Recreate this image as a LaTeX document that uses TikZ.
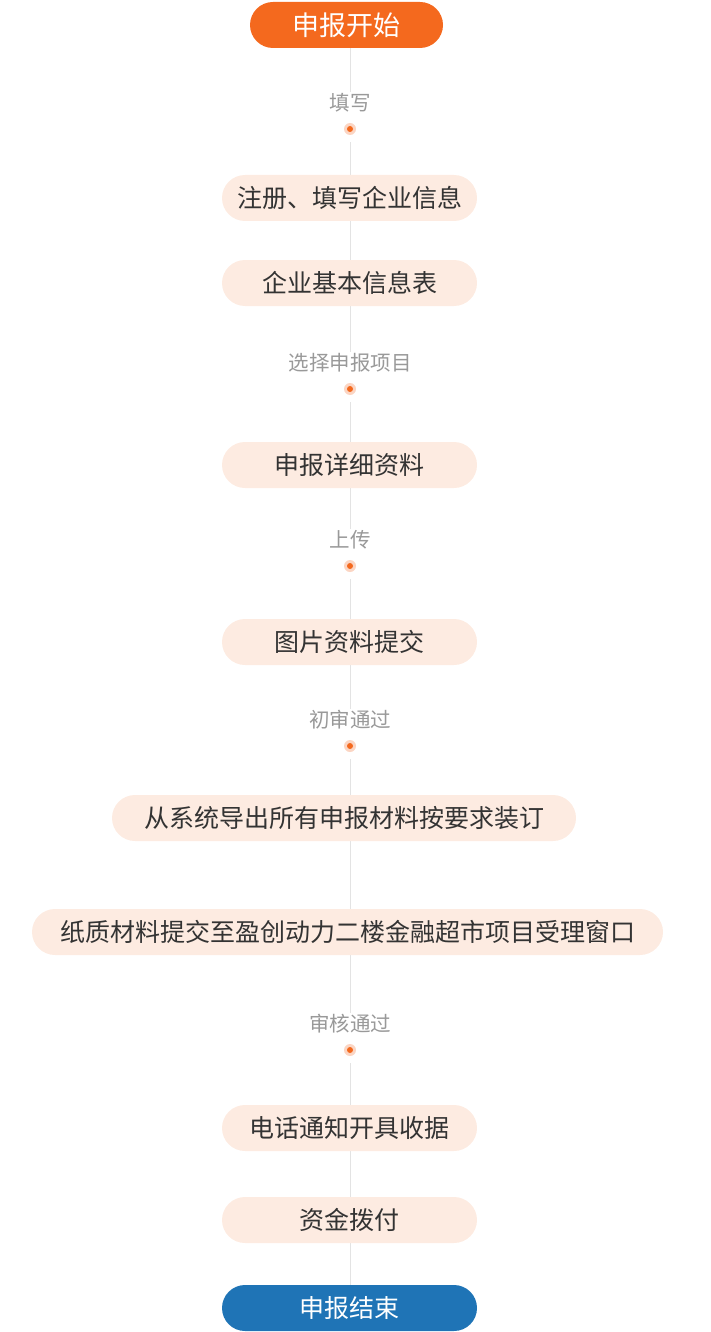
\documentclass[tikz,border=0pt]{standalone}
\usepackage{fontspec}
\setmainfont{Noto Sans CJK SC}
\usetikzlibrary{positioning,backgrounds}

\begin{document}
\begin{tikzpicture}
			[x=1pt,y=-1pt,line cap=round,
			%Styles
			pill/.style={rounded corners=23pt,minimum height=46pt,inner sep=0pt},
			stepbox/.style={pill,fill=stepfill,text=stepgray,minimum width=255pt,font=\fontsize{25}{25}\selectfont},
			terminal/.style={pill,text=white,minimum width=#1},
			check text/.style={fill=white,text=labelgray,inner sep=1pt,font=\fontsize{20.5}{20.5}\selectfont},
			checkdot/.style={circle,fill=dothalo,minimum size=12pt,inner sep=0pt,outer sep=7pt,
				path picture={\fill[startorange] (path picture bounding box.center) circle (3pt);}},
			flow/.style={spinegray,line width=1pt}
			]
			
			%Colors
			\definecolor{startorange}{HTML}{F4691E}
			\definecolor{endblue}{HTML}{1F74B6}
			\definecolor{stepfill}{HTML}{FDEBE1}
			\definecolor{dothalo}{HTML}{FBD5C3}
			\definecolor{spinegray}{HTML}{E3E3E3}
			\definecolor{labelgray}{HTML}{999999}
			\definecolor{stepgray}{HTML}{333333}
			
			\useasboundingbox (0, 0) rectangle (710, 1332);
			\coordinate (spine) at (350, 0);
			
			%The graphic
			\node[terminal=193pt,fill=startorange,font=\fontsize{27}{27}\selectfont] (start) at (346.5, 25) {申报开始};
			
			\node[check text] (fill) at (350, 103) {填写};
			\node[checkdot] (fill dot) at (350, 129) {};
			\node[stepbox] (register) at (349.5, 198) {注册、填写企业信息};
			\node[stepbox] (basic) at (349.5, 283) {企业基本信息表};
			
			\node[check text] (choose) at (350, 363) {选择申报项目};
			\node[checkdot] (choose dot) at (350, 389) {};
			\node[stepbox] (details) at (349.5, 465) {申报详细资料};
			
			\node[check text] (upload) at (350, 540) {上传};
			\node[checkdot] (upload dot) at (350, 566) {};
			\node[stepbox] (pictures) at (349.5, 642) {图片资料提交};
			
			\node[check text] (first) at (350, 720) {初审通过};
			\node[checkdot] (first dot) at (350, 746) {};
			\node[stepbox,minimum width=464pt] (export) at (344, 818) {从系统导出所有申报材料按要求装订};
			\node[stepbox,minimum width=631pt] (paper) at (347.5, 932) {纸质材料提交至盈创动力二楼金融超市项目受理窗口};
			
			\node[check text] (review) at (350, 1024) {审核通过};
			\node[checkdot] (review dot) at (350, 1050) {};
			\node[stepbox] (receipt) at (349.5, 1128) {电话通知开具收据};
			\node[stepbox] (funds) at (349.5, 1220) {资金拨付};
			
			\node[terminal=255pt,fill=endblue,font=\fontsize{25}{25}\selectfont] (finish) at (349.5, 1308) {申报结束};
			
			%Spine
			\begin{scope}[on background layer]
				\draw[flow] (start.south -| spine) -- (fill.north -| spine);
				\draw[flow] (fill dot.south -| spine) -- (register.north -| spine);
				\draw[flow] (register.south -| spine) -- (basic.north -| spine);
				\draw[flow] (basic.south -| spine) -- (choose.north -| spine);
				\draw[flow] (choose dot.south -| spine) -- (details.north -| spine);
				\draw[flow] (details.south -| spine) -- (upload.north -| spine);
				\draw[flow] (upload dot.south -| spine) -- (pictures.north -| spine);
				\draw[flow] (pictures.south -| spine) -- (first.north -| spine);
				\draw[flow] (first dot.south -| spine) -- (export.north -| spine);
				\draw[flow] (export.south -| spine) -- (paper.north -| spine);
				\draw[flow] (paper.south -| spine) -- (review.north -| spine);
				\draw[flow] (review dot.south -| spine) -- (receipt.north -| spine);
				\draw[flow] (receipt.south -| spine) -- (funds.north -| spine);
				\draw[flow] (funds.south -| spine) -- (finish.north -| spine);
			\end{scope}
		\end{tikzpicture}
\end{document}
